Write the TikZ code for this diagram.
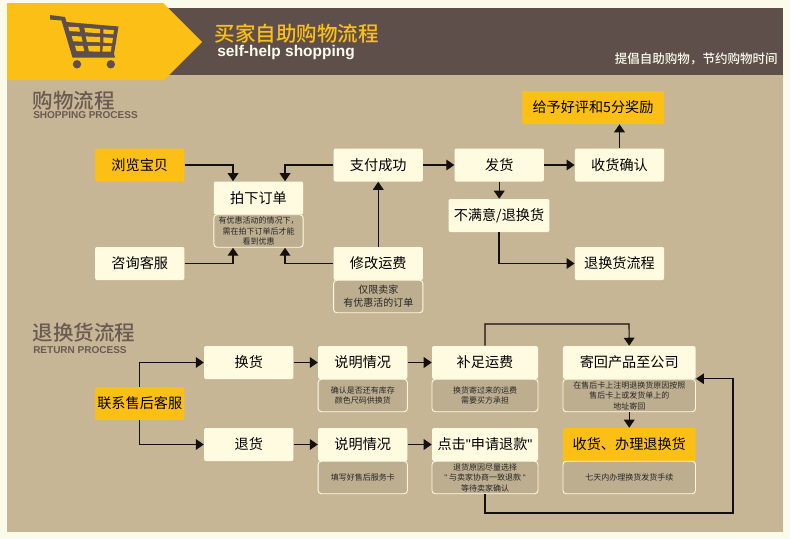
\documentclass[tikz,border=0pt]{standalone}
\usepackage{fontspec}
\setmainfont{Noto Sans CJK SC}
\newfontfamily\cjkmed{Noto Sans CJK SC Medium}
\newfontfamily\latinb{Liberation Sans}[BoldFont={Liberation Sans Bold}]
\usetikzlibrary{arrows.meta}
\definecolor{pagebg}{HTML}{FAFBEA}
\definecolor{tan}{HTML}{C6B696}
\definecolor{brownbar}{HTML}{5F4F4B}
\definecolor{gold}{HTML}{FCBF15}
\definecolor{cream}{HTML}{FFFBE0}
\definecolor{notefill}{HTML}{BDAE90}
\definecolor{headtxt}{HTML}{6A5A52}
\tikzset{
 px/.style={x=0.75pt,y=-0.75pt},
 basebox/.style={rounded corners=1.5pt,inner sep=0pt,minimum height=24.75pt,text=black,align=center,font=\fontsize{10.6pt}{12pt}\selectfont},
 wbox/.style={basebox,fill=cream},
 gbox/.style={basebox,fill=gold},
 notebox/.style={rounded corners=2.5pt,inner sep=0pt,minimum height=24.4pt,fill=notefill,draw=cream,line width=0.7pt,text=black!85,align=center,font=\fontsize{6pt}{7.9pt}\selectfont},
 w89/.style={minimum width=67pt},
 w106/.style={minimum width=79.5pt},
 w133/.style={minimum width=99.4pt},
 conn/.style={draw=black!80!brownbar,line width=0.85pt,-{Triangle[length=6pt,width=8pt]}},
 bighead/.style={text=headtxt,font=\cjkmed\fontsize{15.4pt}{17pt}\selectfont,inner sep=0pt,anchor=west},
 subhead/.style={text=headtxt,font=\latinb\bfseries\fontsize{7.5pt}{8pt}\selectfont,inner sep=0pt,anchor=west},
}
\begin{document}
\begin{tikzpicture}[px]
\useasboundingbox (0,0) rectangle (790,539);
\fill[pagebg] (0,0) rectangle (790,539);
\fill[tan] (7,75) rectangle (783,532);
\fill[brownbar] (160,8) rectangle (783,75);
\fill[gold] (7,3) -- (163,3) -- (202,42) -- (164,80) -- (7,80) -- cycle;
% cart
\fill[brownbar] (50,15) -- (65,17) -- (66.5,22) -- (118.5,26.5) -- (114,54) -- (115,57.5) -- (72.5,57.5) -- (61.5,20.5) -- (50,19.5) -- cycle;
\fill[gold] (68.3,26.7) -- (79,27.3) -- (80,31.7) -- (69.5,31) -- cycle;
\fill[gold] (84.3,27.7) -- (100,29) -- (100,33.3) -- (85.3,32.3) -- cycle;
\fill[gold] (103.3,29.3) -- (114,30.3) -- (113.3,34.3) -- (103.3,33.6) -- cycle;
\fill[gold] (71.7,36) -- (81.3,36.4) -- (82.7,41.7) -- (73.2,41.2) -- cycle;
\fill[gold] (85.7,36.4) -- (100,37) -- (100,42.3) -- (87,41.8) -- cycle;
\fill[gold] (103.3,37.3) -- (113,38) -- (112.2,43.3) -- (103.3,42.6) -- cycle;
\fill[gold] (75,45.7) -- (83,45.9) -- (84.3,51) -- (76.5,51) -- cycle;
\fill[gold] (87.7,45.9) -- (100,46) -- (100,51.7) -- (89,51.4) -- cycle;
\fill[gold] (102.8,46) -- (111.6,46.2) -- (110.8,51.7) -- (102.3,51.7) -- cycle;
\fill[brownbar] (77,64.3) circle (4.2);
\fill[brownbar] (110.8,64.3) circle (4.2);
% header text
\node[inner sep=0pt,anchor=west,text=gold,font=\cjkmed\fontsize{15.4pt}{17pt}\selectfont] (title) at (214.5,33.5) {买家自助购物流程};
\node[inner sep=0pt,anchor=west,text=pagebg,font=\latinb\bfseries\fontsize{11.6pt}{14pt}\selectfont] (titleen) at (217,52.5) {self-help shopping};
\node[inner sep=0pt,anchor=east,text=pagebg,font=\cjkmed\fontsize{9.4pt}{11pt}\selectfont] (slogan) at (778,58.5) {提倡自助购物，节约购物时间};
\node[bighead] (h1) at (32.5,100.5) {购物流程};
\node[subhead] (h1en) at (33,115.5) {SHOPPING PROCESS};
\node[bighead] (h2) at (32.5,333) {退换货流程};
\node[subhead] (h2en) at (33,350.5) {RETURN PROCESS};
% upper flow
\node[gbox,w89] (browse) at (139.75,165) {浏览宝贝};
\node[wbox,w89] (order) at (258.5,198) {拍下订单};
\node[notebox,w89] (ordernote) at (258.5,231) {有优惠活动的情况下，\\需在拍下订单后才能\\看到优惠};
\node[wbox,w89] (consult) at (139.75,263.5) {咨询客服};
\node[wbox,w89] (pay) at (378.25,165) {支付成功};
\node[wbox,w89] (fee) at (378.25,263.5) {修改运费};
\node[notebox,w89,font=\fontsize{7.5pt}{9.8pt}\selectfont] (feenote) at (378.25,296.5) {仅限卖家\\有优惠活的订单};
\node[wbox,w89] (ship) at (499.25,165) {发货};
\node[wbox,w89] (confirm) at (619.5,165) {收货确认};
\node[gbox,minimum width=106.5pt] (reward) at (593,107.5) {给予好评和5分奖励};
\node[wbox,minimum width=75.7pt] (unhappy) at (499,215.5) {不满意/退换货};
\node[wbox,w89] (returnflow) at (619.5,263.5) {退换货流程};
% lower flow
\node[gbox,w89] (contact) at (139.75,403.5) {联系售后客服};
\node[wbox,w89] (exch) at (248.75,362.5) {换货};
\node[wbox,w89] (ref) at (248.75,444.5) {退货};
\node[wbox,w89] (explainA) at (362.75,362.5) {说明情况};
\node[notebox,w89] (explainAnote) at (362.75,395.5) {确认是否还有库存\\颜色尺码供换货};
\node[wbox,w89] (explainB) at (362.75,444.5) {说明情况};
\node[notebox,w89] (explainBnote) at (362.75,477.5) {填写好售后服务卡};
\node[wbox,w106] (topup) at (485,362.5) {补足运费};
\node[notebox,w106] (topupnote) at (485,395.5) {换货寄过来的运费\\需要买方承担};
\node[wbox,w106] (apply) at (485,444.5) {点击{\latinb "}申请退款{\latinb "}};
\node[notebox,w106] (applynote) at (485,477.5) {退货原因尽量选择\\{\latinb "} 与卖家协商一致退款 {\latinb "}\\等待卖家确认};
\node[wbox,w133] (sendback) at (629.25,362.5) {寄回产品至公司};
\node[notebox,w133] (sendnote) at (629.25,395.5) {在售后卡上注明退换货原因按照\\售后卡上或发货单上的\\地址寄回};
\node[gbox,w133] (receive) at (629.25,444.5) {收货、办理退换货};
\node[notebox,w133] (receivenote) at (629.25,477.5) {七天内办理换货发货手续};
% connectors
\coordinate (loopB) at (733,513);
\coordinate (loopT) at (629,324);
\draw[conn] (browse.east) -| ([xshift=-19.1pt]order.north);
\draw[conn] (pay.west) -| ([xshift=19.9pt]order.north);
\draw[conn] (consult.east) -| ([xshift=-19.1pt]ordernote.south);
\draw[conn] (fee.west) -| ([xshift=19.9pt]ordernote.south);
\draw[conn] (fee.north) -- (pay.south);
\draw[conn] (pay.east) -- (ship.west);
\draw[conn] (ship.east) -- (confirm.west);
\draw[conn] (confirm.north) -- (confirm.north |- reward.south);
\draw[conn] (ship.south) -- (ship.south |- unhappy.north);
\draw[conn] (unhappy.south) |- (returnflow.west);
\draw[conn] (contact.north) |- (exch.west);
\draw[conn] (contact.south) |- (ref.west);
\draw[conn] (exch.east) -- (explainA.west);
\draw[conn] (ref.east) -- (explainB.west);
\draw[conn] (explainA.east) -- (topup.west);
\draw[conn] (explainB.east) -- (apply.west);
\draw[conn] (topup.north) |- (loopT) -- (sendback.north);
\draw[conn] (sendnote.south) -- (receive.north);
\draw[conn] (applynote.south) |- (loopB) |- (sendnote.north east);
\end{tikzpicture}
\end{document}
